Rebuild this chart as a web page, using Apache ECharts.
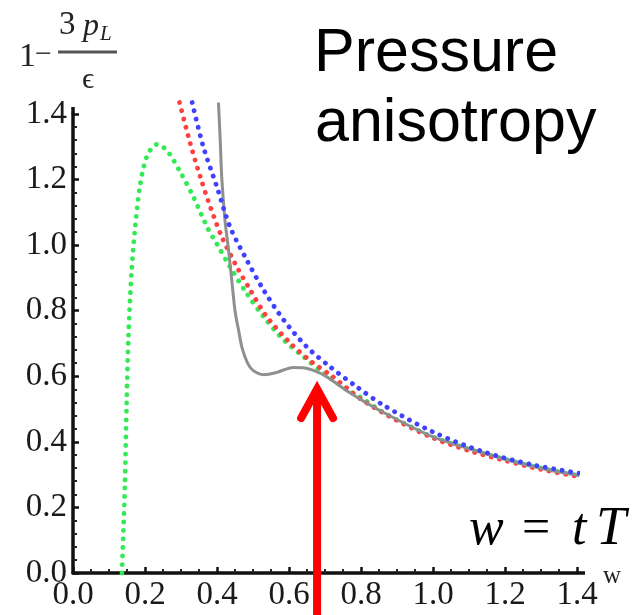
<!DOCTYPE html>
<html>
<head>
<meta charset="utf-8">
<script src="https://cdn.jsdelivr.net/npm/echarts@6/dist/echarts.min.js"></script>
<style>
  html, body { margin: 0; padding: 0; background: #fff; }
  #chart { width: 638px; height: 615px; }
</style>
</head>
<body>
<div id="chart"></div>
<script>
// Pressure anisotropy 1 - 3 pL / eps versus w = tT

// green dotted curve
const greenW = [0.136, 0.140, 0.144, 0.149, 0.154, 0.163, 0.172, 0.186, 0.205, 0.232, 0.260, 0.297, 0.334, 0.375, 0.399, 0.436, 0.482, 0.529, 0.585, 0.640, 0.695, 0.760, 0.800, 0.862, 0.950, 1.000, 1.100, 1.200, 1.300, 1.430];
const greenA = [0.000, 0.130, 0.263, 0.520, 0.720, 0.925, 1.047, 1.180, 1.270, 1.307, 1.290, 1.225, 1.148, 1.050, 1.005, 0.934, 0.854, 0.782, 0.711, 0.660, 0.610, 0.560, 0.535, 0.490, 0.440, 0.415, 0.378, 0.347, 0.320, 0.292];

// red dotted curve
const redW = [0.296, 0.325, 0.353, 0.381, 0.413, 0.455, 0.492, 0.538, 0.603, 0.658, 0.720, 0.800, 0.900, 1.000, 1.100, 1.200, 1.300, 1.430];
const redA = [1.435, 1.313, 1.210, 1.118, 1.026, 0.934, 0.864, 0.782, 0.702, 0.648, 0.600, 0.530, 0.465, 0.412, 0.373, 0.343, 0.316, 0.289];

// blue dotted curve
const blueW = [0.331, 0.362, 0.399, 0.436, 0.482, 0.529, 0.585, 0.649, 0.714, 0.788, 0.862, 1.000, 1.139, 1.278, 1.430];
const blueA = [1.435, 1.300, 1.180, 1.056, 0.956, 0.864, 0.772, 0.690, 0.629, 0.568, 0.512, 0.430, 0.370, 0.330, 0.300];

// grey solid curve
const greyW = [0.404, 0.409, 0.413, 0.422, 0.431, 0.440, 0.450, 0.460, 0.470, 0.485, 0.500, 0.530, 0.566, 0.611, 0.640, 0.670, 0.704, 0.769, 0.862, 1.000, 1.140, 1.280, 1.430];
const greyA = [1.435, 1.320, 1.210, 1.078, 0.995, 0.904, 0.800, 0.740, 0.685, 0.640, 0.618, 0.605, 0.612, 0.627, 0.626, 0.617, 0.599, 0.550, 0.490, 0.415, 0.366, 0.324, 0.292];

// axis ticks
const xTickValues = [0.0, 0.2, 0.4, 0.6, 0.8, 1.0, 1.2, 1.4];
const yTickValues = [0.0, 0.2, 0.4, 0.6, 0.8, 1.0, 1.2, 1.4];

// arrow marker position (w, value at the tip)
const arrowW = 0.678;
const arrowTip = 0.57;

const pairs = (xs, ys) => xs.map((x, i) => [x, ys[i]]);

const chart = echarts.init(document.getElementById('chart'), null, { renderer: 'canvas' });

const serif = "'Liberation Serif', 'Times New Roman', 'DejaVu Serif', serif";
const sans = "'Liberation Sans', Arial, sans-serif";

function dotted(color) {
  return { color: color, width: 4.8, type: [0.1, 8.4], cap: 'round' };
}

function axisCommon(ticks, minorSplit) {
  return {
    type: 'value',
    min: ticks[0],
    max: ticks[ticks.length - 1],
    interval: 0.2,
    splitLine: { show: false },
    axisLine: { show: true, onZero: false, lineStyle: { color: '#111', width: 3.5 } },
    axisTick: { show: true, inside: true, length: 6, lineStyle: { color: '#111', width: 2.5 } },
    minorTick: { show: true, splitNumber: minorSplit, length: 4, lineStyle: { color: '#222', width: 2 } },
    axisLabel: {
      color: '#1a1a1a',
      fontFamily: serif,
      fontSize: 33,
      formatter: v => v.toFixed(1)
    }
  };
}

const xAxis = axisCommon(xTickValues, 4);
xAxis.axisLabel.margin = 6;
const yAxis = axisCommon(yTickValues, 5);
yAxis.axisLabel.margin = 6;

chart.setOption({
  animation: false,
  backgroundColor: '#fff',
  grid: { left: 73, right: 61, top: 114, bottom: 42 },
  xAxis: xAxis,
  yAxis: yAxis,
  series: [
    { name: 'green', type: 'line', data: pairs(greenW, greenA), showSymbol: false, smooth: 0.3, clip: false, lineStyle: dotted('#33ea55') },
    { name: 'red', type: 'line', data: pairs(redW, redA), showSymbol: false, smooth: 0.3, clip: false, lineStyle: dotted('#ff4040') },
    { name: 'grey', type: 'line', data: pairs(greyW, greyA), showSymbol: false, smooth: 0.3, clip: false, lineStyle: { color: '#8f8f8f', width: 3 } },
    { name: 'blue', type: 'line', data: pairs(blueW, blueA), showSymbol: false, smooth: 0.3, clip: false, lineStyle: dotted('#4040ff') }
  ]
});

// overlay: axis end extensions, titles, arrow
const px = (w, a) => chart.convertToPixel({ gridIndex: 0 }, [w, a]);
const xEnd = px(1.4, 0);
const yEnd = px(0, 1.4);
const arrowTop = px(arrowW, arrowTip);

chart.setOption({
  graphic: [
    { type: 'line', shape: { x1: xEnd[0], y1: xEnd[1], x2: xEnd[0] + 8, y2: xEnd[1] }, style: { stroke: '#111', lineWidth: 3.5 } },
    { type: 'line', shape: { x1: yEnd[0], y1: yEnd[1], x2: yEnd[0], y2: yEnd[1] - 7 }, style: { stroke: '#111', lineWidth: 3.5 } },

    // axis variable
    { type: 'text', x: 603, y: 576, style: { text: 'w', font: '25px ' + serif, fill: '#222', verticalAlign: 'middle' } },

    // vertical axis title: 1 - 3 pL / eps
    { type: 'text', x: 19, y: 57, style: { text: '1', font: '34px ' + serif, fill: '#222', verticalAlign: 'middle' } },
    { type: 'text', x: 35, y: 55, style: { text: '\u2212', font: '30px ' + serif, fill: '#333', verticalAlign: 'middle' } },
    { type: 'line', shape: { x1: 58, y1: 52, x2: 117, y2: 52 }, style: { stroke: '#555', lineWidth: 3 } },
    { type: 'text', x: 59, y: 25, style: { text: '3', font: '33px ' + serif, fill: '#222', verticalAlign: 'middle' } },
    { type: 'text', x: 83, y: 27, style: { text: 'p', font: 'italic 32px ' + serif, fill: '#222', verticalAlign: 'middle' } },
    { type: 'text', x: 100, y: 34, style: { text: 'L', font: 'italic 21px ' + serif, fill: '#222', verticalAlign: 'middle' } },
    { type: 'text', x: 82, y: 80, style: { text: '\u03f5', font: '30px ' + serif, fill: '#222', verticalAlign: 'middle' } },

    // heading
    { type: 'text', x: 314, y: 54, style: { text: 'Pressure', font: '61px ' + sans, fill: '#000', verticalAlign: 'middle' } },
    { type: 'text', x: 315, y: 124, style: { text: 'anisotropy', font: '61px ' + sans, fill: '#000', verticalAlign: 'middle' } },

    // w = tT
    { type: 'text', x: 469, y: 530, style: { text: 'w', font: 'italic 52px ' + serif, fill: '#000', verticalAlign: 'middle' } },
    { type: 'text', x: 522, y: 530, style: { text: '=', font: '50px ' + serif, fill: '#000', verticalAlign: 'middle' } },
    { type: 'text', x: 572, y: 530, style: { text: 't', font: 'italic 52px ' + serif, fill: '#000', verticalAlign: 'middle' } },
    { type: 'text', x: 596, y: 530, style: { text: 'T', font: 'italic 54px ' + serif, fill: '#000', verticalAlign: 'middle' } },

    // red arrow
    { type: 'line', z: 100, shape: { x1: arrowTop[0], y1: arrowTop[1] + 4, x2: arrowTop[0], y2: 620 }, style: { stroke: '#ff0000', lineWidth: 8 } },
    { type: 'polyline', z: 100, shape: { points: [[arrowTop[0] - 16, arrowTop[1] + 32], [arrowTop[0], arrowTop[1] + 3], [arrowTop[0] + 16, arrowTop[1] + 32]] }, style: { stroke: '#ff0000', lineWidth: 8, lineCap: 'round', lineJoin: 'miter', fill: null } }
  ]
});
</script>
</body>
</html>
